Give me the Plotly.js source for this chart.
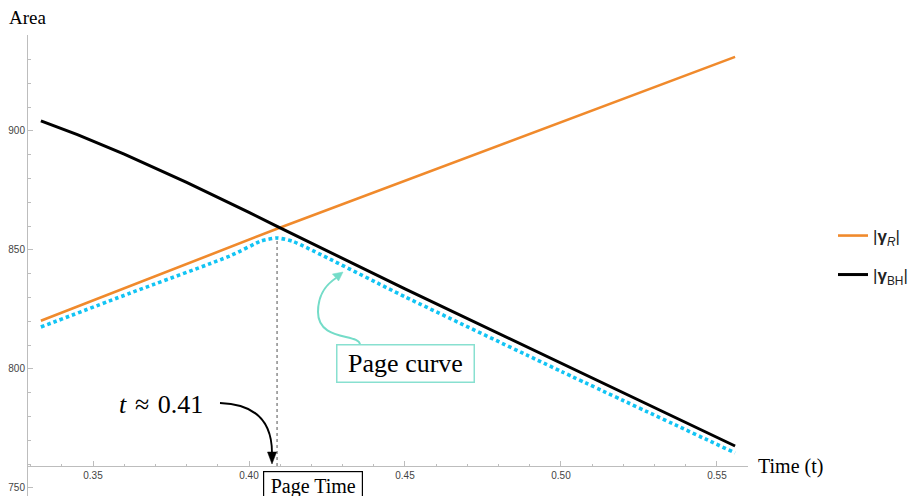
<!DOCTYPE html>
<html>
<head>
<meta charset="utf-8">
<script src="https://cdn.plot.ly/plotly-3.0.1.min.js"></script>
<style>html,body{margin:0;padding:0;background:#fff;}#chart{width:920px;height:496px;}</style>
</head>
<body>
<div id="chart"></div>
<script>
// ---- data ----
const timeR = [0.3333, 0.409, 0.5558];
const areaR = [820.2, 858.9, 931.1];
const timeBH = [0.3333, 0.345, 0.36, 0.38, 0.40, 0.409, 0.45, 0.50, 0.5558];
const areaBH = [904.2, 898.4, 890.2, 878.4, 865.8, 859.9, 833.6, 802.4, 767.6];
const timePage = [0.3333, 0.362, 0.394, 0.404, 0.409, 0.414, 0.45, 0.50, 0.5558];
const areaPage = [817.6, 831.9, 847.5, 853.8, 855.0, 853.6, 830.3, 799.0, 764.7];
const pageTime = 0.409;
const xTickVals = [0.35, 0.40, 0.45, 0.50, 0.55];
const xTickText = ['0.35', '0.40', '0.45', '0.50', '0.55'];
const yTickVals = [750, 800, 850, 900];
const yTickText = ['750', '800', '850', '900'];
const nameR = '|<b>γ</b><sub><i>R</i></sub>|';
const nameBH = '|<b>γ</b><sub>BH</sub>|';

// ---- layout geometry (pixels) ----
const W = 920, H = 496;
const mL = 28, mR = 172, mT = 35, mB = 0;
const pw = W - mL - mR, ph = H - mT - mB;
const xRange = [0.329167, 0.55994];
const yRange = [746.6, 940.3];
const axisCrossY = 759.2;
const px = x => (x - mL) / pw;           // pixel -> paper x
const py = y => (H - mB - y) / ph;       // pixel -> paper y
function pathPx(cmds) {                  // convert pixel path to paper path
  return cmds.replace(/(-?\d+(?:\.\d+)?),(-?\d+(?:\.\d+)?)/g,
    (m, a, b) => px(+a).toFixed(5) + ',' + py(+b).toFixed(5));
}

const serif = 'Liberation Serif, Times New Roman, serif';
const sans = 'Liberation Sans, Arial, sans-serif';

const traces = [
  {x: timeR, y: areaR, mode: 'lines', name: nameR, legend: 'legend',
   line: {color: '#f08a2c', width: 2.6}},
  {x: timeBH, y: areaBH, mode: 'lines', name: nameBH, legend: 'legend2',
   line: {color: '#000000', width: 3}},
  {x: timePage, y: areaPage, mode: 'lines', showlegend: false,
   line: {color: '#12c4f4', width: 3.6, dash: '3.6px,3px', shape: 'spline', smoothing: 0.5}}
];

const axisCol = '#bdbdbd';
const layout = {
  width: W, height: H,
  margin: {l: mL, r: mR, t: mT, b: mB, autoexpand: false},
  paper_bgcolor: '#fff', plot_bgcolor: '#fff',
  showlegend: true,
  xaxis: {
    range: xRange, anchor: 'free',
    position: (axisCrossY - yRange[0]) / (yRange[1] - yRange[0]),
    showgrid: false, zeroline: false, showline: true, linecolor: axisCol, linewidth: 1,
    tickmode: 'array', tickvals: xTickVals, ticktext: xTickText,
    ticks: 'inside', ticklen: 5, tickcolor: axisCol, tickwidth: 1,
    tickfont: {family: sans, size: 10, color: '#444'},
    minor: {dtick: 0.01, tick0: 0.35, ticks: 'inside', ticklen: 2.5, tickcolor: axisCol, showgrid: false}
  },
  yaxis: {
    range: yRange,
    showgrid: false, zeroline: false, showline: true, linecolor: axisCol, linewidth: 1,
    tickmode: 'array', tickvals: yTickVals, ticktext: yTickText,
    ticks: 'inside', ticklen: 5, tickcolor: axisCol, tickwidth: 1,
    tickfont: {family: sans, size: 10, color: '#444'},
    minor: {dtick: 10, tick0: 750, ticks: 'inside', ticklen: 2.5, tickcolor: axisCol, showgrid: false}
  },
  legend: {x: px(833), y: py(236), xanchor: 'left', yanchor: 'middle',
           font: {family: sans, size: 17, color: '#222'}, bgcolor: 'rgba(0,0,0,0)'},
  legend2: {x: px(833), y: py(275), xanchor: 'left', yanchor: 'middle',
            font: {family: sans, size: 17, color: '#222'}, bgcolor: 'rgba(0,0,0,0)'},
  shapes: [
    {type: 'line', xref: 'x', yref: 'y', x0: pageTime, x1: pageTime, y0: axisCrossY, y1: 854,
     line: {color: '#8c8c8c', width: 1.5, dash: '3px,3px'}},
    // black curved arrow from "t ≈ 0.41" label
    {type: 'path', xref: 'paper', yref: 'paper',
     path: pathPx('M220,403 C252,404 272,418 272,453'),
     line: {color: '#000', width: 1.8}},
    {type: 'path', xref: 'paper', yref: 'paper',
     path: pathPx('M272,464 L267.5,452 L276.5,452 Z'),
     fillcolor: '#000', line: {color: '#000', width: 0.5}},
    // teal curved arrow from "Page curve" box
    {type: 'path', xref: 'paper', yref: 'paper',
     path: pathPx('M360,345 C360,333 318,342 318,312 C318,293 327,284 336,278'),
     line: {color: '#74dcc8', width: 2}},
    {type: 'path', xref: 'paper', yref: 'paper',
     path: pathPx('M343,272 L338.6,281 L332.4,274 Z'),
     fillcolor: '#74dcc8', line: {color: '#74dcc8', width: 0.5}}
  ],
  annotations: [
    {xref: 'paper', yref: 'paper', x: px(7), y: py(17), xanchor: 'left', yanchor: 'middle',
     text: 'Area', showarrow: false, font: {family: serif, size: 19, color: '#000'}},
    {xref: 'paper', yref: 'paper', x: px(756), y: py(466), xanchor: 'left', yanchor: 'middle',
     text: 'Time (t)', showarrow: false, font: {family: serif, size: 20, color: '#000'}},
    {xref: 'paper', yref: 'paper', x: px(117), y: py(404), xanchor: 'left', yanchor: 'middle',
     text: '<i>t</i>\u2004≈\u20040.41', showarrow: false, font: {family: serif, size: 26, color: '#000'}},
    {xref: 'paper', yref: 'paper', x: px(313), y: py(471), xanchor: 'center', yanchor: 'top',
     text: 'Page Time', showarrow: false, font: {family: serif, size: 20, color: '#000'},
     width: 96, height: 26, borderpad: 1,
     bordercolor: '#000', borderwidth: 1.2, bgcolor: '#fff'},
    {xref: 'paper', yref: 'paper', x: px(405), y: py(363.5), xanchor: 'center', yanchor: 'middle',
     text: 'Page curve', showarrow: false, font: {family: serif, size: 26, color: '#000'},
     width: 132, height: 32, borderpad: 2,
     bordercolor: '#88e0d0', borderwidth: 1.5, bgcolor: '#fff'}
  ]
};

Plotly.newPlot('chart', traces, layout, {displayModeBar: false, staticPlot: true});
</script>
</body>
</html>
